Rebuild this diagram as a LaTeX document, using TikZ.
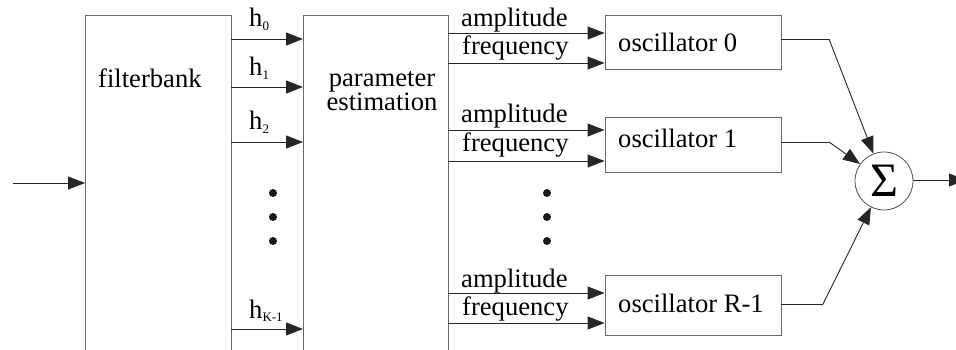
\documentclass[tikz,border=0pt]{standalone}
\usepackage{fontspec}
\setmainfont{Liberation Serif}
\usetikzlibrary{arrows.meta,calc}
\newcommand{\sub}[1]{\raisebox{-3.5pt}{\fontsize{13}{13}\selectfont #1}}
\begin{document}
\begin{tikzpicture}[x=1pt,y=-1pt,
  font=\fontsize{26.6}{21}\selectfont,
  bigbox/.style={draw=black!60,line width=0.9pt,rectangle,anchor=north west,minimum width=146pt,minimum height=345pt,inner sep=0pt},
  oscbox/.style={draw=black!60,line width=0.9pt,rectangle,minimum width=176pt,inner sep=0pt},
  conn/.style={draw=black!85,line width=0.9pt,-{Triangle[length=17pt,width=13pt]}},
  wire/.style={draw=black!85,line width=0.9pt},
  lbl/.style={anchor=base west,inner sep=0pt},
  dotmark/.style={circle,fill=black!90,minimum size=8pt,inner sep=0pt}]
\useasboundingbox (0,0) rectangle (956,350);
\clip (0,0) rectangle (956,350);
% boxes
\node[bigbox] (fb) at (85,15) {};
\node[bigbox,minimum width=145pt] (pe) at (303,15) {};
\node[lbl] (fbt) at (98,88) {filterbank};
\node[anchor=base,inner sep=0pt,align=center] (pet) at (382,111) {parameter\\estimation};
\node[oscbox,minimum height=54pt] (o0) at (693,42) {};
\node[oscbox,minimum height=55pt] (o1) at (693,144.5) {};
\node[oscbox,minimum height=60pt] (oR) at (693,305) {};
\node[lbl] (o0t) at (618,52) {oscillator 0};
\node[lbl] (o1t) at (618,148) {oscillator 1};
\node[lbl] (oRt) at (618,312) {oscillator R-1};
\node[circle,draw=black!70,line width=0.8pt,minimum size=58pt,inner sep=0pt] (sum) at (884,181) {\fontsize{48}{48}\selectfont Σ};
% input
\coordinate (in) at (13,183);
\draw[conn] (in) -- (in -| fb.west);
% filterbank outputs
\foreach \n/\y in {0/39,1/87,2/142,3/329}{
  \coordinate (h\n) at (231,\y);
  \draw[conn] (h\n) -- (h\n -| pe.west);
}
\node[lbl] (l0) at (249,27) {h\sub{0}};
\node[lbl] (l1) at (249,76) {h\sub{1}};
\node[lbl] (l2) at (249,130) {h\sub{2}};
\node[lbl] (l3) at (249,318) {h\sub{K-1}};
\foreach \y [count=\i] in {193,217,241}{
  \node[dotmark] (da\i) at (273,\y) {};
  \node[dotmark] (db\i) at (547,\y) {};
}
% parameter outputs
\foreach \n/\ya/\yf/\ba/\bf/\o in {0/33/63/27/55/o0,1/130/161/123/152/o1,2/293/323/287/315/oR}{
  \coordinate (a\n) at (448,\ya);
  \coordinate (f\n) at (448,\yf);
  \draw[conn] (a\n) -- (a\n -| \o.west);
  \draw[conn] (f\n) -- (f\n -| \o.west);
  \node[lbl] at (461,\ba) {amplitude};
  \node[lbl] at (462,\bf) {frequency};
}
% oscillator outputs
\coordinate (k0) at (829,39);
\coordinate (k1) at (829,142);
\coordinate (kR) at (823,304);
\draw[wire] (k0 -| o0.east) -- (k0);
\draw[conn] (k0) -- (sum);
\draw[wire] (k1 -| o1.east) -- (k1);
\draw[conn] (k1) -- (sum);
\draw[wire] (kR -| oR.east) -- (kR);
\draw[conn] (kR) -- (sum);
\coordinate (out) at (966,180);
\draw[conn] (sum.east |- out) -- (out);
\end{tikzpicture}
\end{document}
